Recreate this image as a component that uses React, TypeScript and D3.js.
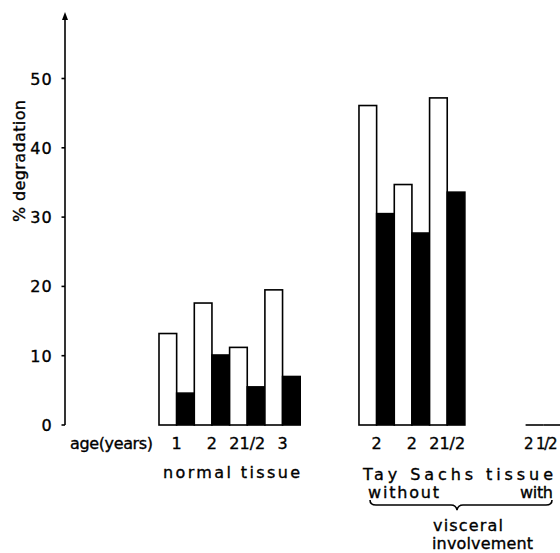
import React from 'react';
import * as d3 from 'd3';

// values (% degradation), white / black bar pairs
const normalAges = ['1', '2', '21/2', '3'];
const normalWhite = [13.2, 17.6, 11.2, 19.5];
const normalBlack = [4.6, 10.1, 5.5, 7.0];

const taySachsAges = ['2', '2', '21/2'];
const taySachsWhite = [46.1, 34.7, 47.2];
const taySachsBlack = [30.5, 27.7, 33.6];

// "with visceral involvement" group, cut off at the right edge
const withAges = ['2 1/2'];
const withWhite = [0];
const withBlack = [0];

const yTicks = [0, 10, 20, 30, 40, 50];

const FONT = 'DejaVu Sans, sans-serif';

export default function App() {
  const width = 560;
  const height = 553;
  const axisX = 65;

  const y = d3.scaleLinear().domain([0, 10]).range([425, 355.7]);
  // x in "bar widths"
  const barW = 17.65;
  const x = d3.scaleLinear().domain([0, 1]).range([159, 159 + barW]);

  const groups = [
    {start: 0, ages: normalAges, white: normalWhite, black: normalBlack},
    {start: 11.33, ages: taySachsAges, white: taySachsWhite, black: taySachsBlack},
    {start: 20.77, ages: withAges, white: withWhite, black: withBlack},
  ];

  const bars: {x0: number; x1: number; v: number; fill: string}[] = [];
  const ageLabels: {cx: number; text: string; last: boolean}[] = [];
  groups.forEach((g, gi) => {
    g.ages.forEach((a, i) => {
      const s = g.start + i * 2;
      bars.push({x0: x(s), x1: x(s + 1), v: g.white[i], fill: '#fff'});
      bars.push({x0: x(s + 1), x1: x(s + 2), v: g.black[i], fill: '#000'});
      ageLabels.push({cx: x(s + 1), text: a, last: gi === 2});
    });
  });

  const bracePath = d3.path();
  bracePath.moveTo(370, 500);
  bracePath.quadraticCurveTo(370, 505, 376, 505);
  bracePath.lineTo(451, 505);
  bracePath.quadraticCurveTo(456, 505, 457, 510);
  bracePath.quadraticCurveTo(458, 505, 463, 505);
  bracePath.lineTo(546, 505);
  bracePath.quadraticCurveTo(552, 505, 552, 500);

  const txt = {fontSize: 16, stroke: '#000', strokeWidth: 0.35};

  return (
    <svg width={width} height={height} style={{position: 'absolute', left: 0, top: 0, background: '#fff'}}>
      <g fontFamily={FONT} fill="#000">
        {/* y axis */}
        <line x1={axisX} x2={axisX} y1={17} y2={y(0)} stroke="#000" strokeWidth={1.6} />
        <path d={`M${axisX},12 L${axisX - 3},20 L${axisX + 3},20 Z`} fill="#000" />
        {yTicks.map(t => (
          <g key={t}>
            <line x1={axisX - 3.5} x2={axisX} y1={y(t)} y2={y(t)} stroke="#000" strokeWidth={1.6} />
            <text x={53} y={y(t) + 6} {...txt} textAnchor="end" letterSpacing={1.2}>{t}</text>
          </g>
        ))}
        <text transform="translate(25,161) rotate(-90)" {...txt} textAnchor="middle"
          textLength={122} lengthAdjust="spacing">% degradation</text>

        {/* bars */}
        {bars.filter(b => b.v > 0).map((b, i) => (
          <rect key={i} x={b.x0} y={y(b.v)} width={b.x1 - b.x0} height={y(0) - y(b.v)}
            fill={b.fill} stroke="#000" strokeWidth={1.6} />
        ))}
        {bars.filter(b => b.v === 0).map((b, i) => (
          <line key={i} x1={b.x0} x2={b.x1} y1={y(0)} y2={y(0)} stroke="#000" strokeWidth={1.6} />
        ))}

        {/* x labels */}
        <text x={70} y={449} {...txt} textLength={83} lengthAdjust="spacing">age(years)</text>
        {ageLabels.map((l, i) => l.last ? (
          <text key={i} x={524} y={449} {...txt} fontSize={15} letterSpacing={-1.2}>{l.text}</text>
        ) : (
          <text key={i} x={l.cx} y={449} {...txt} textAnchor="middle">{l.text}</text>
        ))}
        <text x={163} y={478} {...txt} textLength={137} lengthAdjust="spacing">normal  tissue</text>
        <text x={363} y={480} {...txt} textLength={190} lengthAdjust="spacing">Tay Sachs  tissue</text>
        <text x={368} y={498} {...txt} textLength={71} lengthAdjust="spacing">without</text>
        <text x={520} y={498} {...txt} textLength={33} lengthAdjust="spacing">with</text>
        <path d={bracePath.toString()} fill="none" stroke="#000" strokeWidth={1.6} />
        <text x={433} y={531} {...txt} textLength={70} lengthAdjust="spacing">visceral</text>
        <text x={432} y={549} {...txt} textLength={101} lengthAdjust="spacing">involvement</text>
      </g>
    </svg>
  );
}
